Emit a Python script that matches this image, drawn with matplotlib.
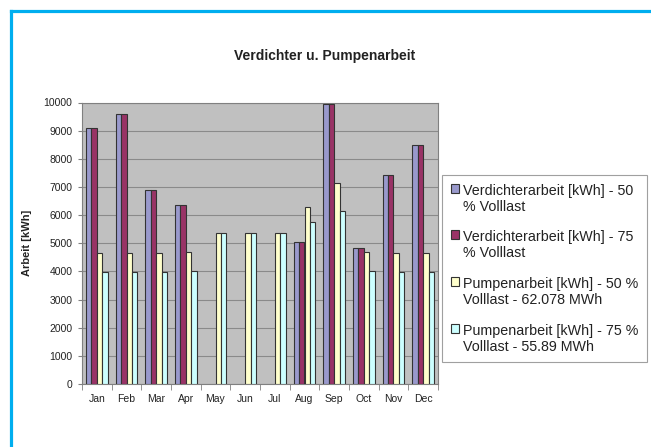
import matplotlib
matplotlib.use("Agg")
import matplotlib.pyplot as plt
import numpy as np
from matplotlib.lines import Line2D

plt.rcParams["font.family"] = ["Liberation Sans", "DejaVu Sans"]

months = ["Jan", "Feb", "Mar", "Apr", "May", "Jun", "Jul", "Aug", "Sep", "Oct", "Nov", "Dec"]
verd_50 = [9100, 9600, 6900, 6350, 0, 0, 0, 5050, 9950, 4830, 7430, 8480]
verd_75 = [9100, 9600, 6900, 6350, 0, 0, 0, 5050, 9950, 4830, 7430, 8480]
pump_50 = [4650, 4650, 4650, 4700, 5350, 5350, 5350, 6300, 7150, 4690, 4640, 4640]
pump_75 = [3990, 3990, 3990, 4020, 5350, 5350, 5350, 5770, 6130, 4030, 3980, 3980]

labels = [
    "Verdichterarbeit [kWh] - 50\n% Volllast",
    "Verdichterarbeit [kWh] - 75\n% Volllast",
    "Pumpenarbeit [kWh] - 50 %\nVolllast - 62.078 MWh",
    "Pumpenarbeit [kWh] - 75 %\nVolllast - 55.89 MWh",
]
colors = ["#9999cc", "#993366", "#ffffcc", "#ccffff"]
series = [verd_50, verd_75, pump_50, pump_75]

W, H = 651, 447
fig = plt.figure(figsize=(W / 100, H / 100), dpi=100)
ax = fig.add_axes([82 / W, 1 - 384 / H, (438 - 82) / W, (384 - 102.5) / H])
ax.set_facecolor("#c0c0c0")

x = np.arange(len(months))
w = 0.18
for k, (vals, col, lab) in enumerate(zip(series, colors, labels)):
    vals = np.array(vals, dtype=float)
    mask = vals > 0
    ax.bar(x[mask] + (k - 1.5) * w, vals[mask], width=w, color=col,
           edgecolor="#333333", linewidth=0.8, label=lab, zorder=3)

ax.set_xlim(-0.5, 11.5)
ax.set_ylim(0, 10000)
ax.set_yticks(np.arange(0, 10001, 1000))
ax.yaxis.grid(True, color="#8a8a8a", linewidth=0.8, zorder=0)
ax.set_axisbelow(True)
ax.set_xticks(x)
ax.set_xticklabels(months, fontsize=7.5, color="#222222")
ax.set_xticks(np.arange(-0.5, 12, 1), minor=True)
ax.tick_params(axis="x", which="major", length=0, pad=7)
ax.tick_params(axis="x", which="minor", length=4, color="#808080")
ax.tick_params(axis="y", length=3, color="#808080", labelsize=7.5, labelcolor="#222222", pad=4)
for s in ax.spines.values():
    s.set_color("#808080")
    s.set_linewidth(0.8)

ax.set_ylabel("Arbeit [kWh]", fontsize=8, fontweight="bold", color="#222222", labelpad=8)
fig.text(325 / W, 1 - 56 / H, "Verdichter u. Pumpenarbeit", ha="center", va="center",
         fontsize=10, fontweight="bold", color="#222222")

leg = fig.legend(loc="upper left", bbox_to_anchor=(442 / W, 1 - 175 / H), fontsize=10.3,
                 frameon=True, fancybox=False, edgecolor="#a0a0a0", framealpha=1,
                 handlelength=0.6, handleheight=0.6, handletextpad=0.25, labelspacing=1.15,
                 borderpad=0.6, borderaxespad=0)
leg.get_frame().set_linewidth(0.8)
for t in leg.get_texts():
    t.set_color("#222222")
# put the colour boxes next to the first line of each entry
for col in leg._legend_handle_box.get_children():
    for row in col.get_children():
        row.align = "top"

# cyan frame (top and left edge visible)
fig.add_artist(Line2D([10.5 / W, 10.5 / W], [0, 1 - 10.5 / H], transform=fig.transFigure,
                      color="#00aeef", linewidth=2.3, solid_capstyle="projecting"))
fig.add_artist(Line2D([10.5 / W, 1], [1 - 10.5 / H, 1 - 10.5 / H], transform=fig.transFigure,
                      color="#00aeef", linewidth=2.3, solid_capstyle="projecting"))

fig.savefig("out.png", dpi=100, facecolor="white")
